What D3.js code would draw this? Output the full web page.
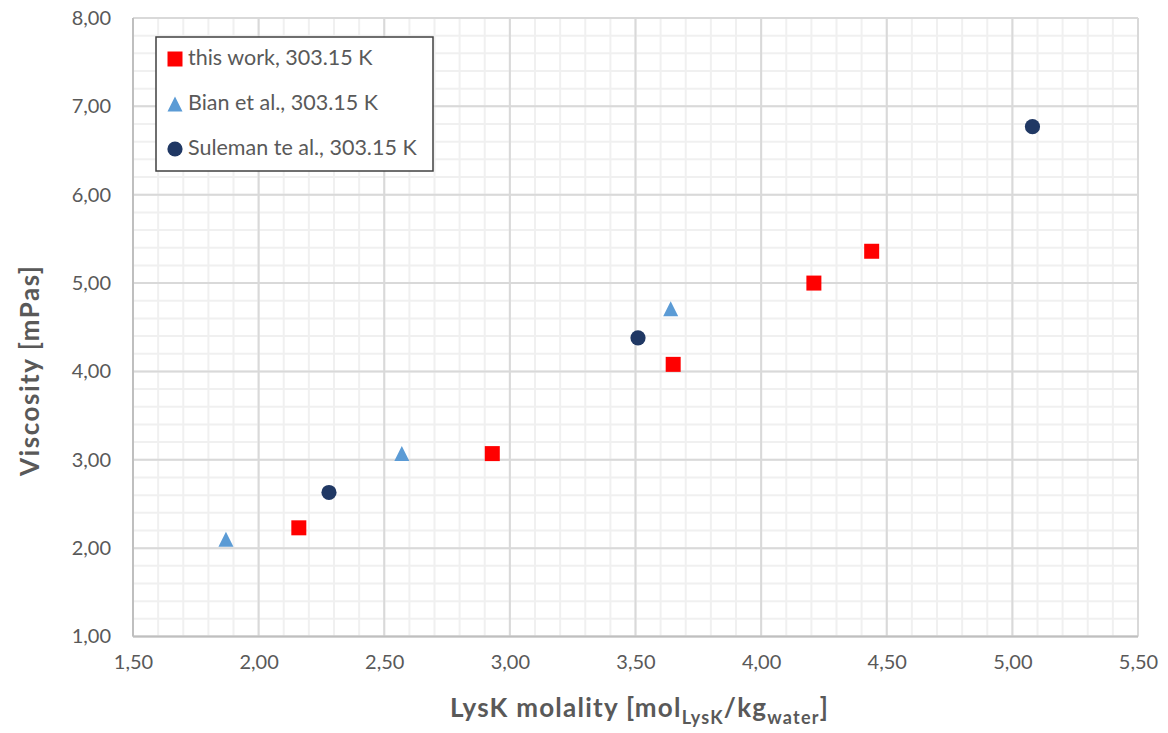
<!DOCTYPE html>
<html>
<head>
<meta charset="utf-8">
<script src="https://cdn.jsdelivr.net/npm/d3@7"></script>
<style>
  html, body { margin: 0; padding: 0; background: #fff; }
  svg { display: block; font-family: Lato, "Open Sans", sans-serif; }
</style>
</head>
<body>
<svg id="chart" width="1168" height="733"></svg>
<script>
// Measured viscosity of aqueous potassium lysinate at 303.15 K
const thisWorkX = [2.16, 2.93, 3.65, 4.21, 4.44];
const thisWorkY = [2.23, 3.07, 4.08, 5.00, 5.36];

const bianX = [1.87, 2.57, 3.64];
const bianY = [2.10, 3.07, 4.71];

const sulemanX = [2.28, 3.51, 5.08];
const sulemanY = [2.63, 4.38, 6.77];

const xTicks = [1.5, 2.0, 2.5, 3.0, 3.5, 4.0, 4.5, 5.0, 5.5];
const yTicks = [1, 2, 3, 4, 5, 6, 7, 8];

const seriesNames = ["this work, 303.15 K", "Bian et al., 303.15 K", "Suleman te al., 303.15 K"];

const svg = d3.select("#chart");
const plot = { left: 133, right: 1138, top: 18, bottom: 636.5 };

const x = d3.scaleLinear().domain([1.5, 5.5]).range([plot.left, plot.right]);
const y = d3.scaleLinear().domain([1, 8]).range([plot.bottom, plot.top]);

const fmt = v => v.toFixed(2).replace(".", ",");

// minor grid
const g = svg.append("g");
g.selectAll("line.vminor").data(d3.range(15, 56).map(v => v / 10))
  .join("line")
  .attr("x1", d => x(d)).attr("x2", d => x(d))
  .attr("y1", plot.top).attr("y2", plot.bottom)
  .attr("stroke", "#f0f0f0").attr("stroke-width", 2);
g.selectAll("line.hminor").data(d3.range(5, 41).map(v => v / 5))
  .join("line")
  .attr("y1", d => y(d)).attr("y2", d => y(d))
  .attr("x1", plot.left).attr("x2", plot.right)
  .attr("stroke", "#f0f0f0").attr("stroke-width", 2);

// major grid
g.selectAll("line.vmajor").data(xTicks)
  .join("line")
  .attr("x1", d => x(d)).attr("x2", d => x(d))
  .attr("y1", plot.top).attr("y2", plot.bottom)
  .attr("stroke", "#d9d9d9").attr("stroke-width", 2);
g.selectAll("line.hmajor").data(yTicks)
  .join("line")
  .attr("y1", d => y(d)).attr("y2", d => y(d))
  .attr("x1", plot.left).attr("x2", plot.right)
  .attr("stroke", "#d9d9d9").attr("stroke-width", 2);

// plot frame edges
svg.append("line").attr("x1", plot.left).attr("x2", plot.right)
  .attr("y1", plot.bottom).attr("y2", plot.bottom)
  .attr("stroke", "#bfbfbf").attr("stroke-width", 2);
svg.append("line").attr("x1", plot.left).attr("x2", plot.left)
  .attr("y1", plot.top).attr("y2", plot.bottom)
  .attr("stroke", "#bfbfbf").attr("stroke-width", 2);

// axes (labels only)
const xAxis = d3.axisBottom(x).tickValues(xTicks).tickFormat(fmt).tickSize(0).tickPadding(18);
const yAxis = d3.axisLeft(y).tickValues(yTicks).tickFormat(fmt).tickSize(0).tickPadding(22);

const gx = svg.append("g").attr("transform", `translate(0,${plot.bottom})`).call(xAxis);
const gy = svg.append("g").attr("transform", `translate(${plot.left},0)`).call(yAxis);
[gx, gy].forEach(a => {
  a.select(".domain").remove();
  a.selectAll("text").attr("fill", "#595959").style("font-size", "20px")
    .style("font-family", "Lato, sans-serif");
});

// axis titles
svg.append("text")
  .attr("x", 450).attr("y", 717)
  .attr("textLength", 378).attr("lengthAdjust", "spacing")
  .attr("fill", "#595959").style("font-size", "26px").style("font-weight", "bold")
  .call(t => {
    t.append("tspan").text("LysK molality [mol");
    t.append("tspan").attr("dy", 7).style("font-size", "18px").text("LysK");
    t.append("tspan").attr("dy", -7).text("/kg");
    t.append("tspan").attr("dy", 7).style("font-size", "18px").text("water");
    t.append("tspan").attr("dy", -7).text("]");
  });

svg.append("text")
  .attr("transform", "translate(39,371) rotate(-90)")
  .attr("text-anchor", "middle")
  .attr("textLength", 210).attr("lengthAdjust", "spacing")
  .attr("fill", "#595959").style("font-size", "26px").style("font-weight", "bold")
  .text("Viscosity [mPas]");

// markers
const red = "#ff0000", blue = "#5b9bd5", navy = "#203864";
// isosceles triangle as wide as it is tall; size = side of the bounding box
const boxTriangle = {
  draw(ctx, s) {
    const h = s / 2;
    ctx.moveTo(0, -h);
    ctx.lineTo(h, h);
    ctx.lineTo(-h, h);
    ctx.closePath();
  }
};
const sq = d3.symbol().type(d3.symbolSquare).size(15 * 15);
const tri = d3.symbol().type(boxTriangle).size(15);
const circ = d3.symbol().type(d3.symbolCircle).size(Math.PI * 7.6 * 7.6);

svg.append("g").selectAll("path").data(d3.zip(bianX, bianY)).join("path")
  .attr("d", tri).attr("fill", blue)
  .attr("transform", d => `translate(${x(d[0])},${y(d[1])})`);
svg.append("g").selectAll("path").data(d3.zip(sulemanX, sulemanY)).join("path")
  .attr("d", circ).attr("fill", navy)
  .attr("transform", d => `translate(${x(d[0])},${y(d[1])})`);
svg.append("g").selectAll("path").data(d3.zip(thisWorkX, thisWorkY)).join("path")
  .attr("d", sq).attr("fill", red)
  .attr("transform", d => `translate(${x(d[0])},${y(d[1])})`);

// legend
const lg = svg.append("g");
lg.append("rect").attr("x", 156).attr("y", 37).attr("width", 277).attr("height", 134)
  .attr("fill", "#fff").attr("stroke", "#404040").attr("stroke-width", 1.5);
const symbols = [sq, tri, circ];
const colors = [red, blue, navy];
seriesNames.forEach((name, i) => {
  const cy = 59 + i * 45;
  lg.append("path").attr("d", symbols[i]).attr("fill", colors[i])
    .attr("transform", `translate(175,${cy})`);
  lg.append("text").attr("x", 188).attr("y", cy + 6)
    .attr("fill", "#595959").style("font-size", "21.5px").text(name);
});
</script>
</body>
</html>
